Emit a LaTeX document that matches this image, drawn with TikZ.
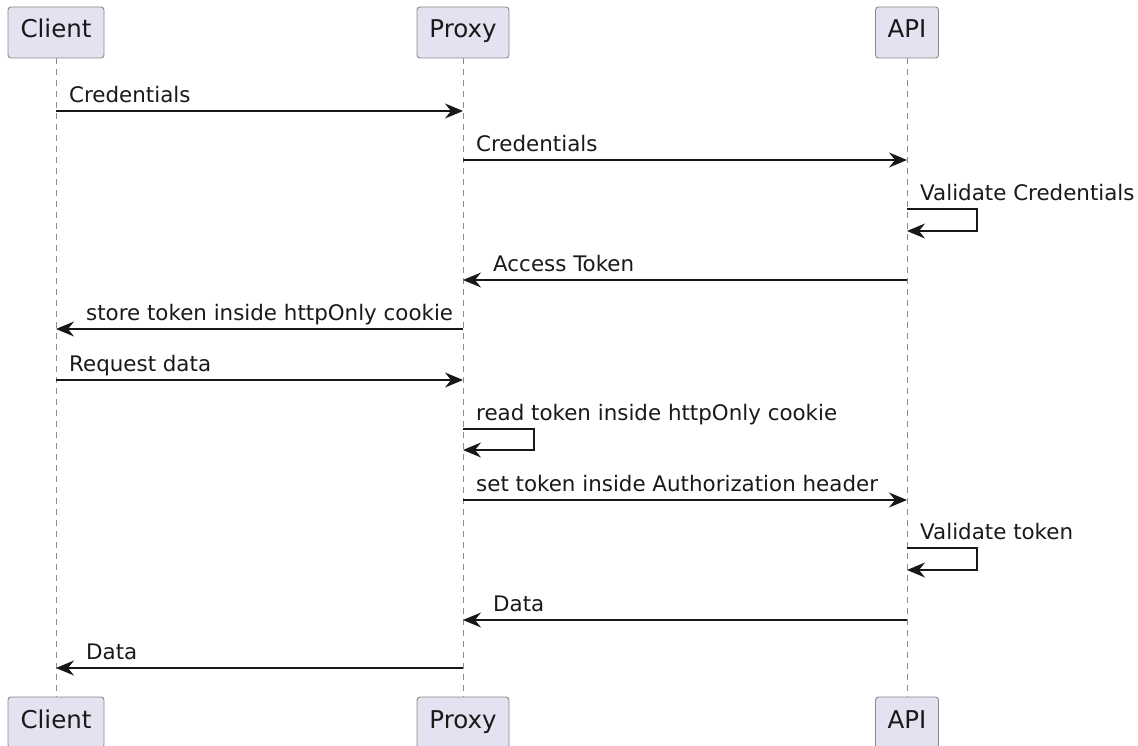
\documentclass[tikz,border=0pt]{standalone}
\usepackage{fontspec}
\setmainfont{DejaVu Sans}
\usetikzlibrary{arrows.meta}
\definecolor{pbg}{HTML}{E2E2F0}
\definecolor{pline}{HTML}{181818}
\definecolor{pborder}{HTML}{8A8A8A}
\begin{document}
\begin{tikzpicture}[x=1pt,y=-1pt,
 part/.style={draw=pborder, fill=pbg, rounded corners=3pt, line width=0.9pt, minimum height=51pt, inner sep=0pt, font=\fontsize{24.5}{28}\selectfont, text=black!90, text height=17pt, text depth=6pt},
 msg/.style={draw=pline, line width=1.2pt, -{Stealth[length=18pt,width=15pt,inset=6pt]}},
 life/.style={draw=gray!90, dash pattern=on 6pt off 5pt, line width=0.7pt},
 lbl/.style={font=\fontsize{21.4}{25}\selectfont, inner sep=0pt, anchor=base west, text=black!90}
]
\useasboundingbox (0,0) rectangle (1138,746);
% participants
\node[part, minimum width=96pt] (ct) at (56,32.5) {Client};
\node[part, minimum width=92pt] (pt) at (463,32.5) {Proxy};
\node[part, minimum width=63pt] (at) at (907,32.5) {API};
\node[part, minimum width=96pt] (cb) at (56,722.5) {Client};
\node[part, minimum width=92pt] (pb) at (463,722.5) {Proxy};
\node[part, minimum width=63pt] (ab) at (907,722.5) {API};
% lifelines
\draw[life] (ct.south) -- (cb.north);
\draw[life] (pt.south) -- (pb.north);
\draw[life] (at.south) -- (ab.north);
% message anchor coordinates
\coordinate (c1) at (56,111); \coordinate (p1) at (463,111);
\coordinate (p2) at (463,160); \coordinate (a2) at (907,160);
\coordinate (a3s) at (907,209); \coordinate (a3e) at (907,231);
\coordinate (a4) at (907,280); \coordinate (p4) at (463,280);
\coordinate (p5) at (463,329); \coordinate (c5) at (56,329);
\coordinate (c6) at (56,380); \coordinate (p6) at (463,380);
\coordinate (p7s) at (463,429); \coordinate (p7e) at (463,450);
\coordinate (p8) at (463,500); \coordinate (a8) at (907,500);
\coordinate (a9s) at (907,548); \coordinate (a9e) at (907,570);
\coordinate (a10) at (907,620); \coordinate (p10) at (463,620);
\coordinate (p11) at (463,668); \coordinate (c11) at (56,668);
% messages
\draw[msg] (c1) -- (p1);
\node[lbl] (l1) at (69,102.5) {Credentials};
\draw[msg] (p2) -- (a2);
\node[lbl] (l2) at (476,151.5) {Credentials};
\draw[msg] (a3s) -- ++(70,0) |- (a3e);
\node[lbl] (l3) at (920,200.5) {Validate Credentials};
\draw[msg] (a4) -- (p4);
\node[lbl] (l4) at (493,271.5) {Access Token};
\draw[msg] (p5) -- (c5);
\node[lbl] (l5) at (86,320.5) {store token inside httpOnly cookie};
\draw[msg] (c6) -- (p6);
\node[lbl] (l6) at (69,371.5) {Request data};
\draw[msg] (p7s) -- ++(71,0) |- (p7e);
\node[lbl] (l7) at (476,420.5) {read token inside httpOnly cookie};
\draw[msg] (p8) -- (a8);
\node[lbl] (l8) at (476,491.5) {set token inside Authorization header};
\draw[msg] (a9s) -- ++(70,0) |- (a9e);
\node[lbl] (l9) at (920,539.5) {Validate token};
\draw[msg] (a10) -- (p10);
\node[lbl] (l10) at (493,611.5) {Data};
\draw[msg] (p11) -- (c11);
\node[lbl] (l11) at (86,659.5) {Data};
\end{tikzpicture}
\end{document}
